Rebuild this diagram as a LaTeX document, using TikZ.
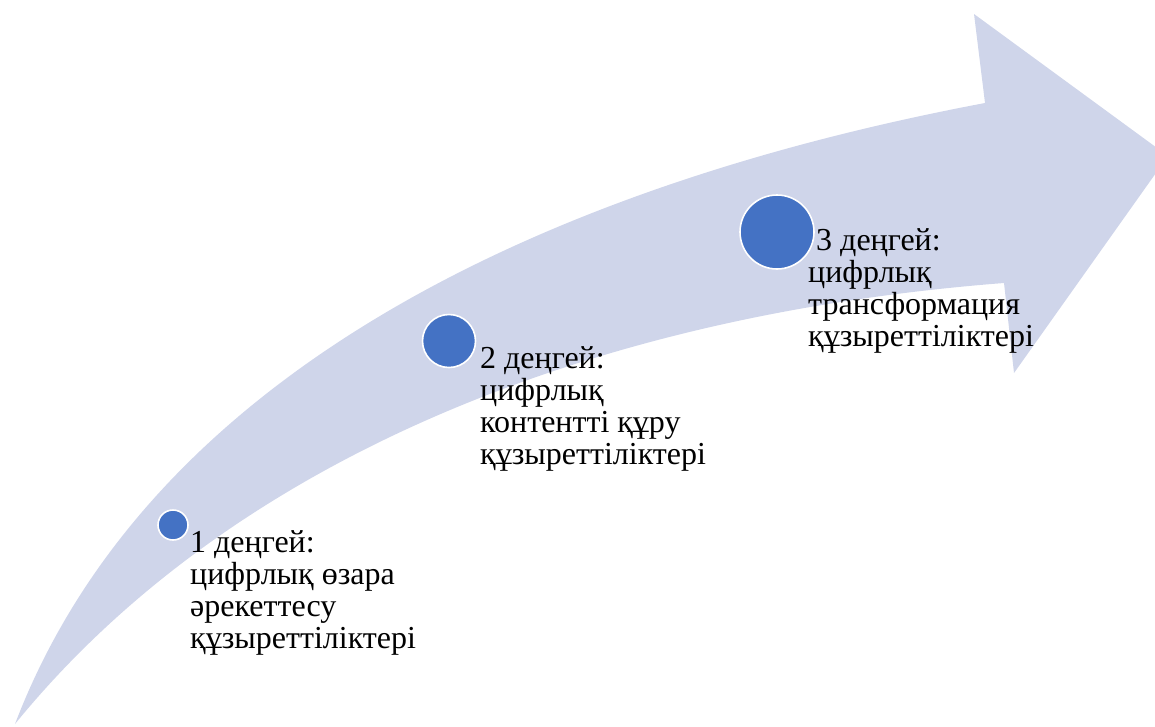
\documentclass[tikz,border=0pt]{standalone}
\usepackage{fontspec}
\setmainfont{Liberation Serif}
\newfontfamily\labelfont{Liberation Serif}
\definecolor{bandcol}{HTML}{CFD5EA}
\definecolor{dotcol}{HTML}{4472C4}
\begin{document}
\begin{tikzpicture}[x=1pt,y=-1pt,
  dot/.style={circle,fill=dotcol,draw=white,line width=1.6pt,inner sep=0pt},
  lbl/.style={anchor=base west,inner sep=0pt,font=\labelfont\fontsize{32}{32.3}\selectfont}]
\useasboundingbox (0,0) rectangle (1155,726);
\fill[bandcol] (15,724) .. controls (150,370) and (550,185) .. (985,103)
  -- (974,14) -- (1168,156) -- (1014,373) -- (1004,283)
  .. controls (590,315) and (230,460) .. (15,724) -- cycle;
\node[dot,minimum size=30pt] (d1) at (173,525) {};
\node[dot,minimum size=53pt] (d2) at (449,341) {};
\node[dot,minimum size=74pt] (d3) at (777,232) {};
\node[lbl] (t1) at (190,552) {\vtop{\hbox{1 деңгей:}\hbox{цифрлық өзара}\hbox{әрекеттесу}\hbox{құзыреттіліктері}}};
\node[lbl] (t2) at (480,368) {\vtop{\hbox{2 деңгей:}\hbox{цифрлық}\hbox{контентті құру}\hbox{құзыреттіліктері}}};
\node[lbl] (t3) at (808,250) {\vtop{\hbox{\ 3 деңгей:}\hbox{цифрлық}\hbox{трансформация}\hbox{құзыреттіліктері}}};
\end{tikzpicture}
\end{document}
